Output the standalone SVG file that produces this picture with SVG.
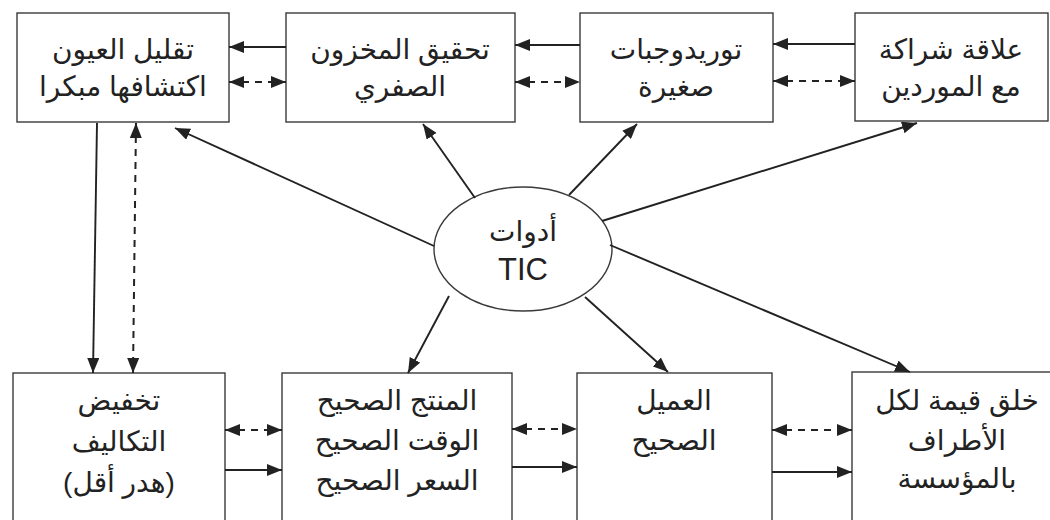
<svg xmlns="http://www.w3.org/2000/svg" width="1050" height="520" viewBox="0 0 1050 520">
<style>
.box{fill:#fff;stroke:#3a3a3a;stroke-width:1.4}
.t{font-family:"Liberation Sans","DejaVu Sans",sans-serif;font-size:28px;fill:#222;text-anchor:middle}
.s{stroke:#222;stroke-width:1.9;fill:none;marker-end:url(#ah)}
.d{stroke:#222;stroke-width:2;fill:none;stroke-dasharray:7 6;marker-start:url(#ah)}
.d{marker-end:url(#ah)}
</style>
<defs>
<marker id="ah" viewBox="0 0 15 12" refX="15" refY="6" markerWidth="15" markerHeight="12" markerUnits="userSpaceOnUse" orient="auto-start-reverse">
<path d="M0,0 L15,6 L0,12 z" fill="#222"/>
</marker>
</defs>
<rect width="1050" height="520" fill="#fff"/>
<g id="n1"><rect class="box" x="17" y="13" width="212" height="109"/><text class="t" x="123" y="59">تقليل العيون</text><text class="t" x="123" y="96">اكتشافها مبكرا</text></g>
<g id="n2"><rect class="box" x="286" y="13" width="229" height="109"/><text class="t" x="400" y="59">تحقيق المخزون</text><text class="t" x="400" y="96">الصفري</text></g>
<g id="n3"><rect class="box" x="580" y="13" width="193" height="109"/><text class="t" x="676" y="59">توريدوجبات</text><text class="t" x="676" y="96">صغيرة</text></g>
<g id="n4"><rect class="box" x="855" y="13" width="193" height="108"/><text class="t" x="951" y="59">علاقة شراكة</text><text class="t" x="951" y="96">مع الموردين</text></g>
<g id="n5"><rect class="box" x="13" y="373" width="212" height="160"/><text class="t" x="119" y="410">تخفيض</text><text class="t" x="119" y="451">التكاليف</text><text class="t" x="119" y="492">(هدر أقل)</text></g>
<g id="n6"><rect class="box" x="282" y="373" width="230" height="160"/><text class="t" x="397" y="410">المنتج الصحيح</text><text class="t" x="397" y="450">الوقت الصحيح</text><text class="t" x="397" y="490">السعر الصحيح</text></g>
<g id="n7"><rect class="box" x="577" y="373" width="195" height="160"/><text class="t" x="674" y="410">العميل</text><text class="t" x="674" y="450">الصحيح</text></g>
<g id="n8"><rect class="box" x="852" y="372" width="215" height="160"/><text class="t" x="957" y="410">خلق قيمة لكل</text><text class="t" x="957" y="450">الأطراف</text><text class="t" x="957" y="488">بالمؤسسة</text></g>
<g id="n9"><ellipse class="box" cx="523" cy="249" rx="89" ry="62"/><text class="t" x="523" y="241">أدوات</text><text class="t" x="523" y="280" style="font-size:31px">TIC</text></g>
<g id="connectors">
<line class="s" x1="286" y1="47" x2="229" y2="47"/>
<line class="d" x1="229" y1="82" x2="286" y2="82"/>
<line class="s" x1="580" y1="45" x2="515" y2="45"/>
<line class="d" x1="515" y1="82" x2="580" y2="82"/>
<line class="s" x1="855" y1="44" x2="773" y2="44"/>
<line class="d" x1="773" y1="81" x2="855" y2="81"/>
<line class="s" x1="225" y1="470" x2="282" y2="470"/>
<line class="d" x1="225" y1="430" x2="282" y2="430"/>
<line class="s" x1="512" y1="467" x2="577" y2="467"/>
<line class="d" x1="512" y1="429" x2="577" y2="429"/>
<line class="s" x1="772" y1="472" x2="852" y2="472"/>
<line class="d" x1="772" y1="430" x2="852" y2="430"/>
<line class="s" x1="97" y1="123" x2="93" y2="373"/>
<line class="d" x1="136" y1="123" x2="133" y2="373"/>
<line class="s" x1="434" y1="246" x2="175" y2="128"/>
<line class="s" x1="475" y1="198" x2="423" y2="124"/>
<line class="s" x1="569" y1="195" x2="637" y2="124"/>
<line class="s" x1="602" y1="221" x2="917" y2="123"/>
<line class="s" x1="610" y1="245" x2="910" y2="372"/>
<line class="s" x1="585" y1="297" x2="668" y2="372"/>
<line class="s" x1="449" y1="296" x2="408" y2="373"/>
</g>
</svg>
